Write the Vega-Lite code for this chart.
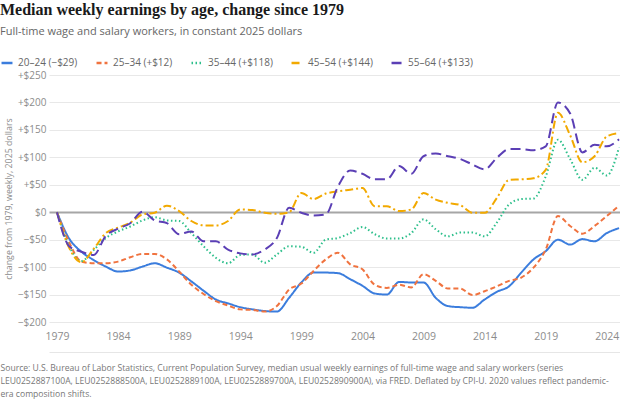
{
  "$schema": "https://vega.github.io/schema/vega-lite/v6.json",
  "autosize": "none",
  "width": 571,
  "height": 247,
  "padding": {"left": 49, "top": 75, "right": 0, "bottom": 80},
  "background": "white",
  "title": {
    "text": "Median weekly earnings by age, change since 1979",
    "subtitle": "Full-time wage and salary workers, in constant 2025 dollars",
    "anchor": "start",
    "frame": "group",
    "dx": -49,
    "offset": 19,
    "font": "Liberation Serif",
    "fontSize": 16,
    "fontWeight": "bold",
    "color": "#1a1a1a",
    "subtitleFont": "Open Sans",
    "subtitleFontSize": 11,
    "subtitleColor": "#666666",
    "subtitlePadding": 8
  },
  "data": {
    "values": [
      {"year": 1979, "20–24 (−$29)": 0, "25–34 (+$12)": 0, "35–44 (+$118)": 0, "45–54 (+$144)": 0, "55–64 (+$133)": 0},
      {"year": 1980, "20–24 (−$29)": -48, "25–34 (+$12)": -55, "35–44 (+$118)": -62, "45–54 (+$144)": -65, "55–64 (+$133)": -62},
      {"year": 1981, "20–24 (−$29)": -72, "25–34 (+$12)": -90, "35–44 (+$118)": -89, "45–54 (+$144)": -91, "55–64 (+$133)": -72},
      {"year": 1982, "20–24 (−$29)": -87, "25–34 (+$12)": -93, "35–44 (+$118)": -69, "45–54 (+$144)": -67, "55–64 (+$133)": -78},
      {"year": 1983, "20–24 (−$29)": -99, "25–34 (+$12)": -93, "35–44 (+$118)": -47, "45–54 (+$144)": -38, "55–64 (+$133)": -43},
      {"year": 1984, "20–24 (−$29)": -108, "25–34 (+$12)": -90, "35–44 (+$118)": -35, "45–54 (+$144)": -28, "55–64 (+$133)": -30},
      {"year": 1985, "20–24 (−$29)": -106, "25–34 (+$12)": -82, "35–44 (+$118)": -26, "45–54 (+$144)": -19, "55–64 (+$133)": -20},
      {"year": 1986, "20–24 (−$29)": -99, "25–34 (+$12)": -76, "35–44 (+$118)": -15, "45–54 (+$144)": -4, "55–64 (+$133)": 1},
      {"year": 1987, "20–24 (−$29)": -93, "25–34 (+$12)": -76, "35–44 (+$118)": -9, "45–54 (+$144)": -1, "55–64 (+$133)": -15},
      {"year": 1988, "20–24 (−$29)": -101, "25–34 (+$12)": -86, "35–44 (+$118)": -15, "45–54 (+$144)": 12, "55–64 (+$133)": -20},
      {"year": 1989, "20–24 (−$29)": -110, "25–34 (+$12)": -108, "35–44 (+$118)": -16, "45–54 (+$144)": 2, "55–64 (+$133)": -40},
      {"year": 1990, "20–24 (−$29)": -126, "25–34 (+$12)": -132, "35–44 (+$118)": -38, "45–54 (+$144)": -16, "55–64 (+$133)": -35},
      {"year": 1991, "20–24 (−$29)": -143, "25–34 (+$12)": -149, "35–44 (+$118)": -62, "45–54 (+$144)": -24, "55–64 (+$133)": -53},
      {"year": 1992, "20–24 (−$29)": -159, "25–34 (+$12)": -162, "35–44 (+$118)": -83, "45–54 (+$144)": -24, "55–64 (+$133)": -53},
      {"year": 1993, "20–24 (−$29)": -166, "25–34 (+$12)": -170, "35–44 (+$118)": -93, "45–54 (+$144)": -16, "55–64 (+$133)": -68},
      {"year": 1994, "20–24 (−$29)": -173, "25–34 (+$12)": -177, "35–44 (+$118)": -78, "45–54 (+$144)": 5, "55–64 (+$133)": -75},
      {"year": 1995, "20–24 (−$29)": -177, "25–34 (+$12)": -178, "35–44 (+$118)": -77, "45–54 (+$144)": 4, "55–64 (+$133)": -77},
      {"year": 1996, "20–24 (−$29)": -180, "25–34 (+$12)": -181, "35–44 (+$118)": -92, "45–54 (+$144)": -1, "55–64 (+$133)": -68},
      {"year": 1997, "20–24 (−$29)": -181, "25–34 (+$12)": -171, "35–44 (+$118)": -77, "45–54 (+$144)": -3, "55–64 (+$133)": -47},
      {"year": 1998, "20–24 (−$29)": -156, "25–34 (+$12)": -141, "35–44 (+$118)": -62, "45–54 (+$144)": 0, "55–64 (+$133)": 8},
      {"year": 1999, "20–24 (−$29)": -128, "25–34 (+$12)": -130, "35–44 (+$118)": -63, "45–54 (+$144)": 35, "55–64 (+$133)": -1},
      {"year": 2000, "20–24 (−$29)": -110, "25–34 (+$12)": -107, "35–44 (+$118)": -74, "45–54 (+$144)": 24, "55–64 (+$133)": -6},
      {"year": 2001, "20–24 (−$29)": -110, "25–34 (+$12)": -86, "35–44 (+$118)": -50, "45–54 (+$144)": 34, "55–64 (+$133)": -4},
      {"year": 2002, "20–24 (−$29)": -111, "25–34 (+$12)": -74, "35–44 (+$118)": -47, "45–54 (+$144)": 38, "55–64 (+$133)": 47},
      {"year": 2003, "20–24 (−$29)": -122, "25–34 (+$12)": -95, "35–44 (+$118)": -38, "45–54 (+$144)": 41, "55–64 (+$133)": 76},
      {"year": 2004, "20–24 (−$29)": -134, "25–34 (+$12)": -104, "35–44 (+$118)": -27, "45–54 (+$144)": 44, "55–64 (+$133)": 70},
      {"year": 2005, "20–24 (−$29)": -148, "25–34 (+$12)": -132, "35–44 (+$118)": -40, "45–54 (+$144)": 11, "55–64 (+$133)": 60},
      {"year": 2006, "20–24 (−$29)": -150, "25–34 (+$12)": -138, "35–44 (+$118)": -48, "45–54 (+$144)": 11, "55–64 (+$133)": 60},
      {"year": 2007, "20–24 (−$29)": -127, "25–34 (+$12)": -132, "35–44 (+$118)": -48, "45–54 (+$144)": 2, "55–64 (+$133)": 84},
      {"year": 2008, "20–24 (−$29)": -128, "25–34 (+$12)": -137, "35–44 (+$118)": -38, "45–54 (+$144)": 5, "55–64 (+$133)": 70},
      {"year": 2009, "20–24 (−$29)": -128, "25–34 (+$12)": -113, "35–44 (+$118)": -13, "45–54 (+$144)": 35, "55–64 (+$133)": 102},
      {"year": 2010, "20–24 (−$29)": -156, "25–34 (+$12)": -125, "35–44 (+$118)": -31, "45–54 (+$144)": 23, "55–64 (+$133)": 107},
      {"year": 2011, "20–24 (−$29)": -171, "25–34 (+$12)": -139, "35–44 (+$118)": -44, "45–54 (+$144)": 17, "55–64 (+$133)": 102},
      {"year": 2012, "20–24 (−$29)": -173, "25–34 (+$12)": -139, "35–44 (+$118)": -37, "45–54 (+$144)": 13, "55–64 (+$133)": 97},
      {"year": 2013, "20–24 (−$29)": -174, "25–34 (+$12)": -151, "35–44 (+$118)": -37, "45–54 (+$144)": -1, "55–64 (+$133)": 87},
      {"year": 2014, "20–24 (−$29)": -159, "25–34 (+$12)": -144, "35–44 (+$118)": -44, "45–54 (+$144)": -1, "55–64 (+$133)": 78},
      {"year": 2015, "20–24 (−$29)": -145, "25–34 (+$12)": -135, "35–44 (+$118)": -19, "45–54 (+$144)": 26, "55–64 (+$133)": 99},
      {"year": 2016, "20–24 (−$29)": -135, "25–34 (+$12)": -125, "35–44 (+$118)": 14, "45–54 (+$144)": 59, "55–64 (+$133)": 115},
      {"year": 2017, "20–24 (−$29)": -110, "25–34 (+$12)": -119, "35–44 (+$118)": 24, "45–54 (+$144)": 60, "55–64 (+$133)": 115},
      {"year": 2018, "20–24 (−$29)": -86, "25–34 (+$12)": -101, "35–44 (+$118)": 25, "45–54 (+$144)": 62, "55–64 (+$133)": 113},
      {"year": 2019, "20–24 (−$29)": -71, "25–34 (+$12)": -68, "35–44 (+$118)": 65, "45–54 (+$144)": 77, "55–64 (+$133)": 120},
      {"year": 2020, "20–24 (−$29)": -50, "25–34 (+$12)": -7, "35–44 (+$118)": 132, "45–54 (+$144)": 181, "55–64 (+$133)": 200},
      {"year": 2021, "20–24 (−$29)": -59, "25–34 (+$12)": -25, "35–44 (+$118)": 97, "45–54 (+$144)": 140, "55–64 (+$133)": 180},
      {"year": 2022, "20–24 (−$29)": -49, "25–34 (+$12)": -39, "35–44 (+$118)": 59, "45–54 (+$144)": 91, "55–64 (+$133)": 109},
      {"year": 2023, "20–24 (−$29)": -53, "25–34 (+$12)": -25, "35–44 (+$118)": 81, "45–54 (+$144)": 102, "55–64 (+$133)": 123},
      {"year": 2024, "20–24 (−$29)": -38, "25–34 (+$12)": -7, "35–44 (+$118)": 67, "45–54 (+$144)": 138, "55–64 (+$133)": 120},
      {"year": 2025, "20–24 (−$29)": -29, "25–34 (+$12)": 12, "35–44 (+$118)": 118, "45–54 (+$144)": 144, "55–64 (+$133)": 133}
    ]
  },
  "transform": [
    {"fold": ["20–24 (−$29)", "25–34 (+$12)", "35–44 (+$118)", "45–54 (+$144)", "55–64 (+$133)"], "as": ["series", "change"]}
  ],
  "mark": {"type": "line", "strokeWidth": 2, "interpolate": "monotone", "clip": true},
  "encoding": {
    "x": {
      "field": "year",
      "type": "quantitative",
      "scale": {"domain": [1978.35, 2025.08], "nice": false, "zero": false},
      "axis": {
        "values": [1979, 1984, 1989, 1994, 1999, 2004, 2009, 2014, 2019, 2024],
        "format": "d",
        "grid": false,
        "ticks": false,
        "tickSize": 0,
        "domain": true,
        "domainColor": "#e6e6e6",
        "domainWidth": 1,
        "offset": 30,
        "labelFlush": false,
        "labelPadding": -16,
        "labelBaseline": "middle",
        "labelFont": "Open Sans",
        "labelFontSize": 10.5,
        "labelColor": "#8c8c8c",
        "title": [
          "Source: U.S. Bureau of Labor Statistics, Current Population Survey, median usual weekly earnings of full-time wage and salary workers (series",
          "LEU0252887100A, LEU0252888500A, LEU0252889100A, LEU0252889700A, LEU0252890900A), via FRED. Deflated by CPI-U. 2020 values reflect pandemic-",
          "era composition shifts."
        ],
        "titleFont": "Open Sans",
        "titleFontSize": 8.6,
        "titleFontWeight": "normal",
        "titleColor": "#777777",
        "titleAnchor": "start",
        "titleAlign": "left",
        "titleBaseline": "top",
        "titleX": -49,
        "titleY": 11,
        "titleLineHeight": 13,
        "titleLimit": 640
      }
    },
    "y": {
      "field": "change",
      "type": "quantitative",
      "scale": {"domain": [-200, 250], "nice": false},
      "axis": {
        "values": [-200, -150, -100, -50, 0, 50, 100, 150, 200, 250],
        "labelExpr": "datum.value > 0 ? '+$' + datum.value : (datum.value < 0 ? '−$' + abs(datum.value) : '$0')",
        "labelOverlap": false,
        "grid": true,
        "gridColor": {"condition": {"test": "datum.value === 0", "value": "#a6a6a6"}, "value": "#e8e8e8"},
        "gridWidth": {"condition": {"test": "datum.value === 0", "value": 2}, "value": 1},
        "ticks": false,
        "domain": false,
        "labelPadding": 3,
        "labelFont": "Open Sans",
        "labelFontSize": 10,
        "labelColor": "#8c8c8c",
        "title": "change from 1979, weekly, 2025 dollars",
        "titleFont": "Open Sans",
        "titleFontSize": 8.8,
        "titleFontWeight": "normal",
        "titleColor": "#8c8c8c",
        "titlePadding": 4
      }
    },
    "color": {
      "field": "series",
      "type": "nominal",
      "sort": null,
      "scale": {
        "domain": ["20–24 (−$29)", "25–34 (+$12)", "35–44 (+$118)", "45–54 (+$144)", "55–64 (+$133)"],
        "range": ["#3b7ddd", "#f0733f", "#2dbf8b", "#f2a900", "#5b3fb5"]
      },
      "legend": {
        "title": null,
        "orient": "none",
        "legendX": -49,
        "legendY": -19,
        "direction": "horizontal",
        "columns": 5,
        "symbolType": "stroke",
        "symbolSize": 120,
        "symbolStrokeWidth": 2.5,
        "labelFont": "Open Sans",
        "labelFontSize": 10,
        "labelColor": "#666666",
        "labelOffset": 4,
        "columnPadding": 13,
        "encode": {"symbols": {"update": {"strokeDash": {"value": [1, 0]}}}}
      }
    },
    "strokeDash": {
      "field": "series",
      "type": "nominal",
      "sort": null,
      "scale": {
        "domain": ["20–24 (−$29)", "25–34 (+$12)", "35–44 (+$118)", "45–54 (+$144)", "55–64 (+$133)"],
        "range": [[1, 0], [5, 3], [1.5, 2.5], [8, 3, 2, 3], [10, 5]]
      },
      "legend": null
    }
  },
  "config": {"view": {"stroke": null}, "axisY": {"labelOverlap": false}}
}
